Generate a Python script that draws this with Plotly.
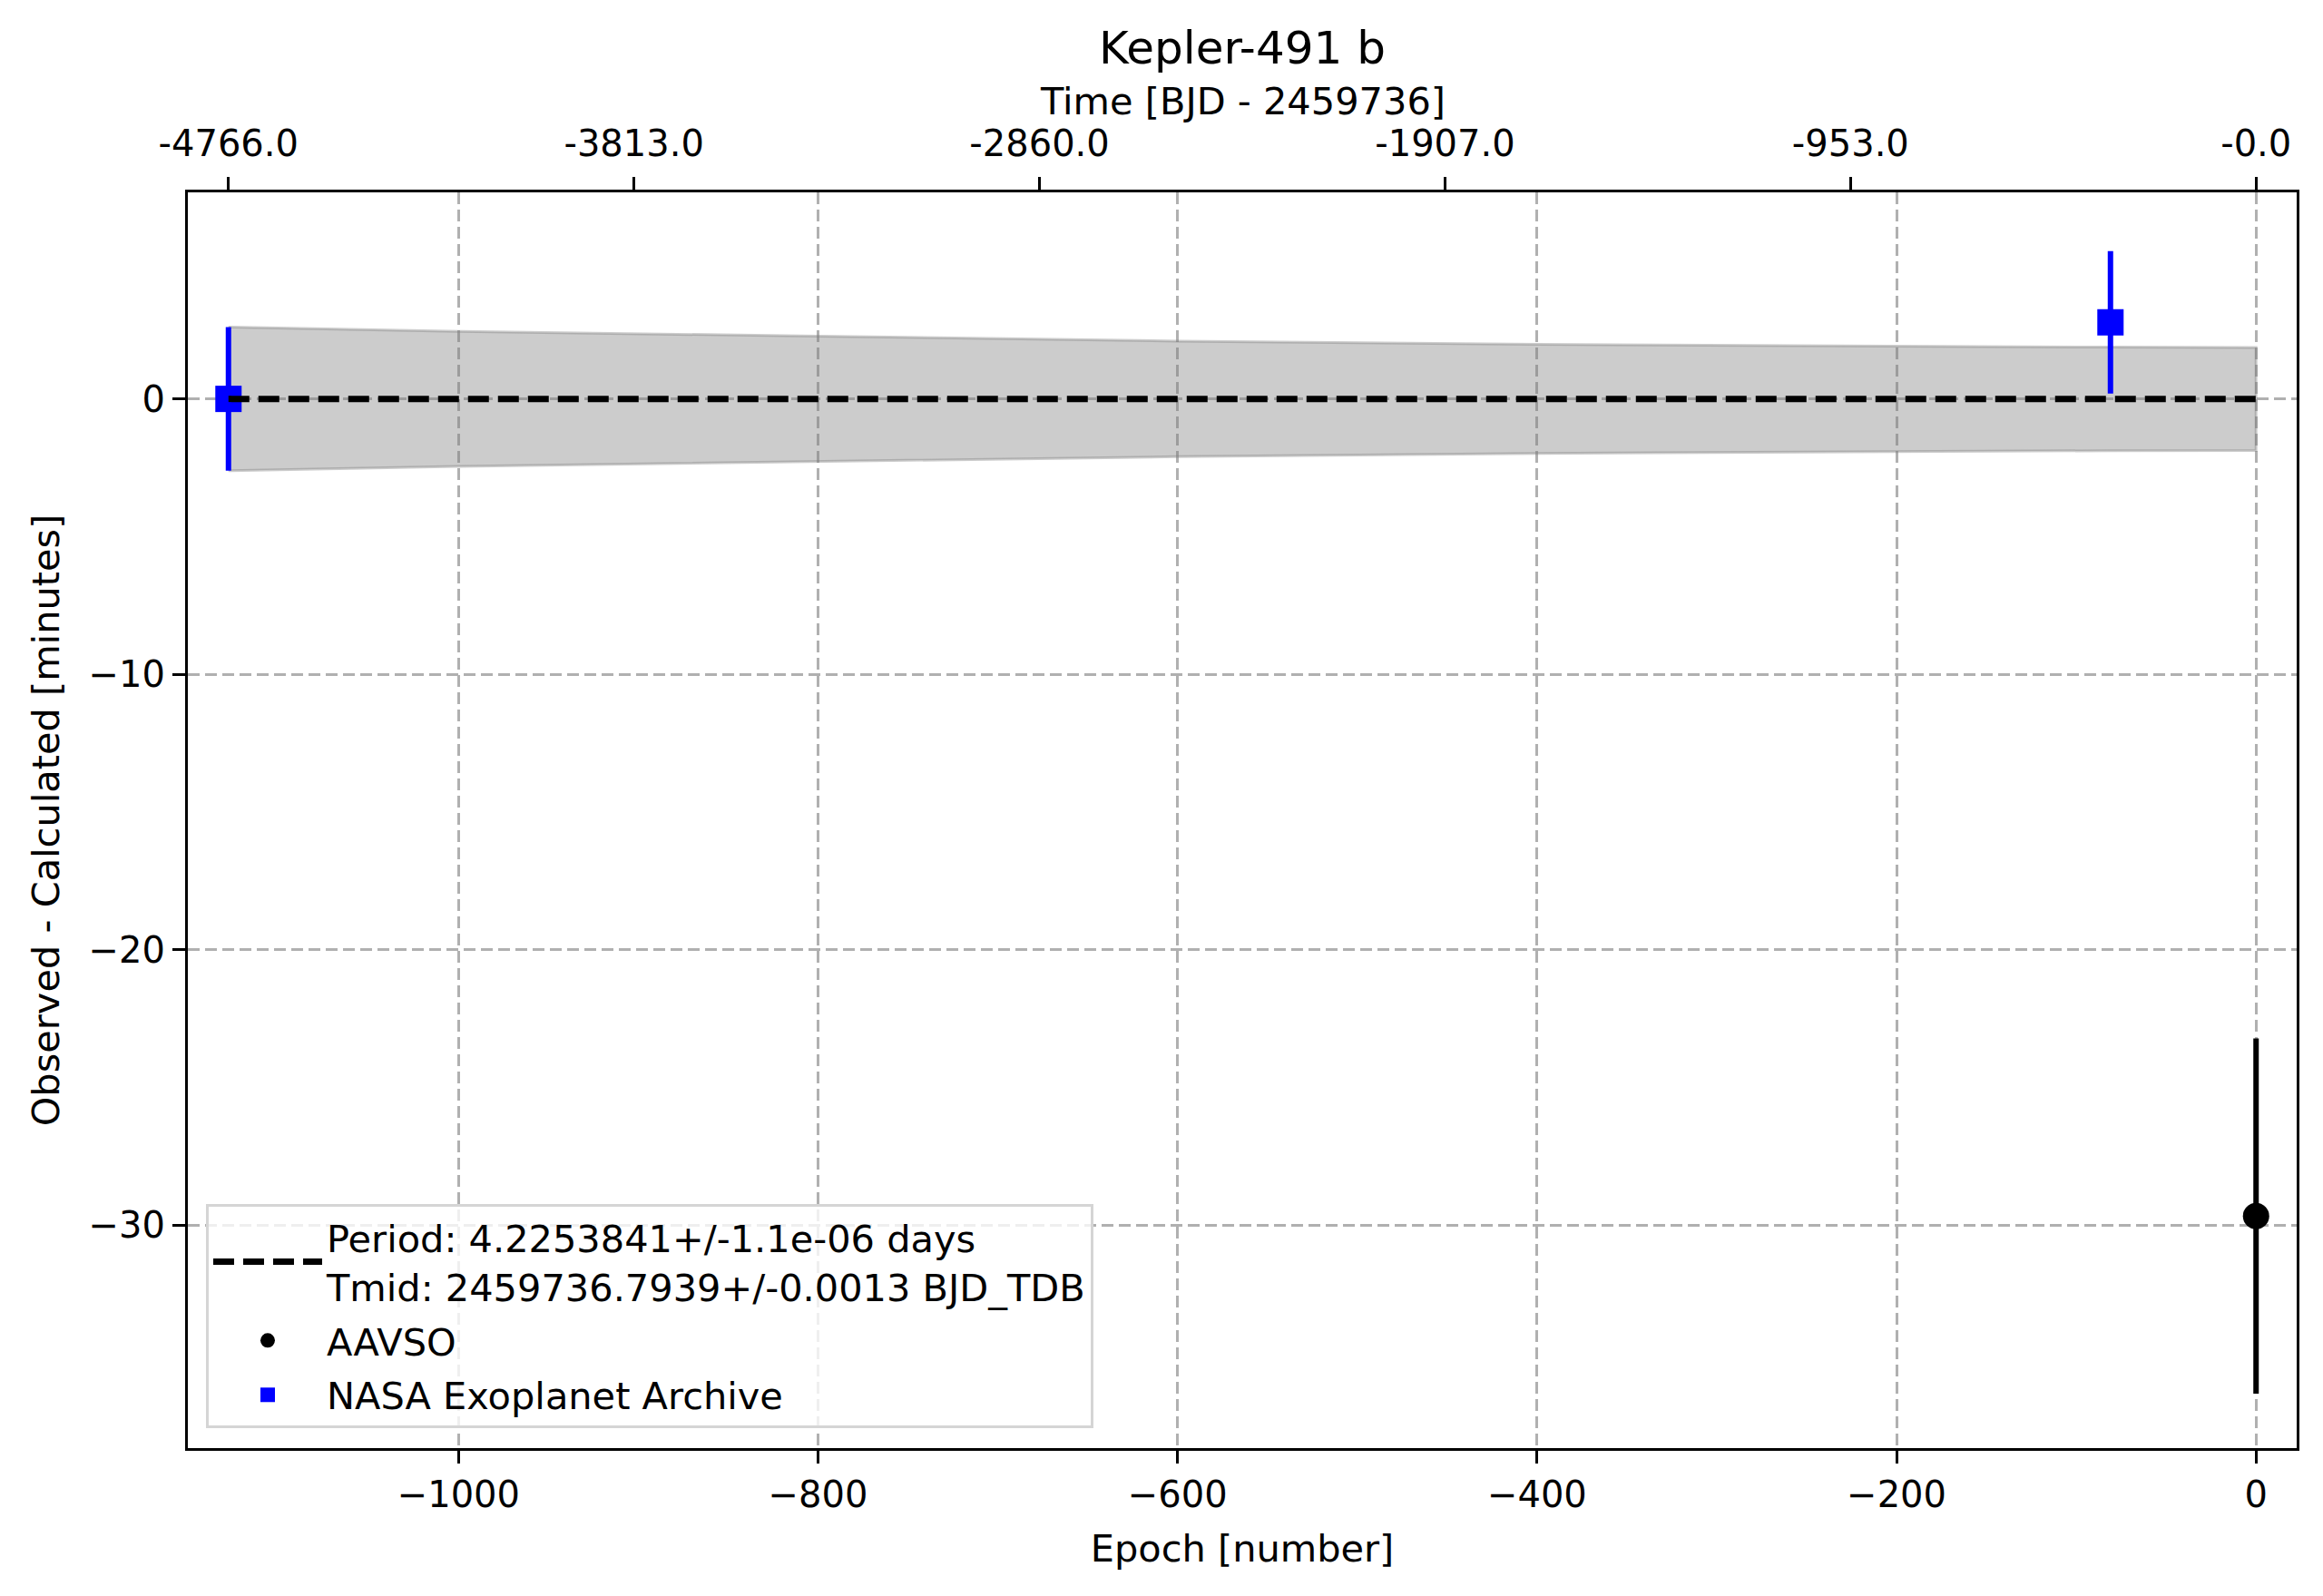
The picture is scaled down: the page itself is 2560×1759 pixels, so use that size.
import plotly.graph_objects as go

# datos
aavso_epoch = [0]
aavso_oc = [-29.67]
aavso_err = [6.45]

nasa_epoch = [-1128, -81]
nasa_oc = [0.0, 2.78]
nasa_err = [2.61, 2.59]

# ajuste lineal (O-C = 0) y su banda de incertidumbre
fit_epoch = [-1128, 0]
fit_oc = [0.0, 0.0]
band_epoch = [-1128, -1000, -800, -600, -400, -200, -81, 0]
band_half = [2.61, 2.45, 2.28, 2.10, 1.98, 1.91, 1.88, 1.87]

bottom_ticks = [-1000, -800, -600, -400, -200, 0]
bottom_labels = ["\u22121000", "\u2212800", "\u2212600", "\u2212400", "\u2212200", "0"]
y_ticks = [0, -10, -20, -30]
y_labels = ["0", "\u221210", "\u221220", "\u221230"]
top_ticks = [-1128, -902.4, -676.8, -451.2, -225.6, 0]
top_labels = ["-4766.0", "-3813.0", "-2860.0", "-1907.0", "-953.0", "-0.0"]

legend_fit = "Period: 4.2253841+/-1.1e-06 days<br>Tmid: 2459736.7939+/-0.0013 BJD_TDB"

FONT = "DejaVu Sans"
fig = go.Figure()

# banda gris
fig.add_trace(go.Scatter(
    x=band_epoch + band_epoch[::-1],
    y=band_half + [-v for v in band_half[::-1]],
    fill="toself", fillcolor="rgba(128,128,128,0.4)",
    line=dict(color="rgba(128,128,128,0.4)", width=3),
    mode="lines", showlegend=False, hoverinfo="skip"))

fig.add_trace(go.Scatter(
    x=aavso_epoch, y=aavso_oc, mode="markers", name="AAVSO",
    marker=dict(symbol="circle", size=29, color="black"),
    error_y=dict(type="data", array=aavso_err, color="black", thickness=6, width=0),
    legendrank=2, legendgroup="aavso"))

fig.add_trace(go.Scatter(
    x=nasa_epoch, y=nasa_oc, mode="markers", name="NASA Exoplanet Archive",
    marker=dict(symbol="square", size=29, color="blue"),
    error_y=dict(type="data", array=nasa_err, color="blue", thickness=6, width=0),
    legendrank=3, legendgroup="nasa"))

fig.add_trace(go.Scatter(
    x=fit_epoch, y=fit_oc, mode="lines", name=legend_fit,
    line=dict(color="black", width=7, dash="23px,10px"),
    legendrank=1, legendgroup="fit"))

# eje superior (tiempo)
fig.add_trace(go.Scatter(
    x=top_ticks, y=[0] * len(top_ticks), xaxis="x2", mode="markers",
    marker=dict(opacity=0), showlegend=False, hoverinfo="skip"))

grid = dict(showgrid=True, gridcolor="#b0b0b0", gridwidth=2.5, griddash="13px,6px")
ticks = dict(ticks="outside", ticklen=14, tickwidth=3, tickcolor="black",
             showline=True, linecolor="black", linewidth=3, zeroline=False,
             tickfont=dict(size=40))
title_font = dict(size=41.5)

fig.update_layout(
    width=2560, height=1759,
    margin=dict(l=199, r=37, t=204, b=171),
    paper_bgcolor="white", plot_bgcolor="white",
    font=dict(family=FONT, size=40, color="black"),
    title=dict(text="Kepler-491 b", x=0.5, xref="paper", xanchor="center",
               y=1 - 44 / 1759, yref="container", yanchor="middle",
               font=dict(size=50)),
    xaxis=dict(range=[-1150.6, 22.6], tickvals=bottom_ticks, ticktext=bottom_labels,
               title=dict(text="Epoch [number]", standoff=23, font=title_font),
               **ticks, **grid),
    xaxis2=dict(range=[-1150.6, 22.6], overlaying="x", side="top", anchor="y",
                tickvals=top_ticks, ticktext=top_labels, showgrid=False,
                ticklabelstandoff=7, **ticks),
    yaxis=dict(range=[-38.1, 7.5], tickvals=y_ticks, ticktext=y_labels, mirror=True,
               title=dict(text="Observed - Calculated [minutes]", standoff=20, font=title_font),
               **ticks, **grid),
    legend=dict(x=0.0086, y=0.1944, xanchor="left", yanchor="top",
                bgcolor="rgba(255,255,255,0.8)", bordercolor="#d5d5d5", borderwidth=3,
                font=dict(size=41.5), itemwidth=120, tracegroupgap=3),
    showlegend=True,
)

# titulo del eje superior
fig.add_annotation(text="Time [BJD - 2459736]", xref="paper", yref="paper",
                   x=0.5, y=1, yshift=101, xanchor="center", yanchor="middle",
                   showarrow=False, font=title_font)

fig.write_html("out.html")
